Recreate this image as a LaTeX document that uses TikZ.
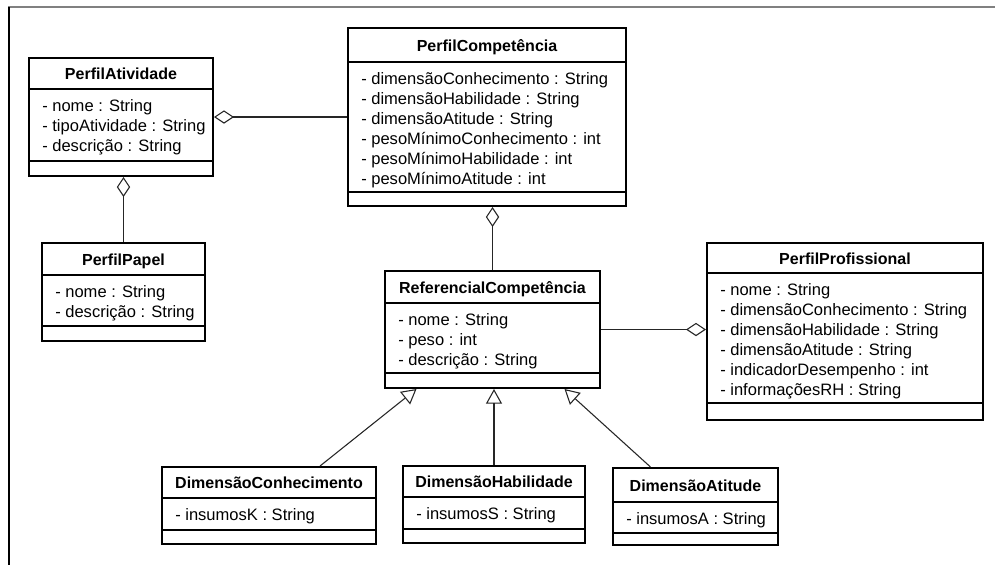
\documentclass[tikz,border=0pt]{standalone}
\usepackage{fontspec}
\setmainfont{Liberation Sans}
\usetikzlibrary{arrows.meta,fit,calc}

\tikzset{
  classbox/.style={draw=black, line width=1.5pt, inner sep=0pt},
  sepline/.style={draw=black, line width=0.8pt},
  classtitle/.style={font=\bfseries\fontsize{12}{14}\selectfont, inner sep=0pt, anchor=base},
  attr/.style={font=\fontsize{12.4}{14}\selectfont, inner sep=0pt, anchor=base west},
  link/.style={draw=black!85, line width=0.8pt},
  agg/.style={link, {Diamond[open, length=15pt, width=10pt, line width=0.8pt]}-},
  gen/.style={link, -{Triangle[open, length=11pt, width=12pt, line width=0.8pt]}},
}

% #1 name, #2-#5 box corners, #6 title rule, #7 attribute rule, #8 title, #9 attributes
\newcommand\umlclass[9]{%
  \node[classbox, fit={(#2,#3) (#4,#5)}] (#1) {};
  \draw[sepline] (#2,#6) -- (#4,#6);
  \draw[sepline] (#2,#7) -- (#4,#7);
  \node[classtitle] (#1-title) at ({(#2+#4)/2}, {(#3+#6)/2+6}) {#8};
  \foreach \a [count=\i] in {#9} {
    \node[attr] (#1-attr\i) at (#2+13, #6+22+20*\i-20) {\a};
  }%
}

\begin{document}
\begin{tikzpicture}[x=0.75pt, y=-0.75pt]
\useasboundingbox (0,0) rectangle (995,565);
\fill[white] (0,0) rectangle (995,565);

% frame
\draw[gray, line width=1.2pt] (8,7) -- (995,7);
\draw[black, line width=1.2pt] (9,7) -- (9,565);

\umlclass{pa}{29}{58}{213}{176}{89}{161}{PerfilAtividade}
  {- nome : String, - tipoAtividade : String, - descrição : String}
\umlclass{pp}{42}{243}{205}{341}{275}{326}{PerfilPapel}
  {- nome : String, - descrição : String}
\umlclass{pc}{348}{28}{626}{206}{62}{192}{PerfilCompetência}
  {- dimensãoConhecimento : String, - dimensãoHabilidade : String,
   - dimensãoAtitude : String, - pesoMínimoConhecimento : int,
   - pesoMínimoHabilidade : int, - pesoMínimoAtitude : int}
\umlclass{ref}{385}{271}{600}{388}{303}{373}{ReferencialCompetência}
  {- nome : String, - peso : int, - descrição : String}
\umlclass{prof}{707}{243}{983}{420}{273}{403}{PerfilProfissional}
  {- nome : String, - dimensãoConhecimento : String,
   - dimensãoHabilidade : String, - dimensãoAtitude : String,
   - indicadorDesempenho : int, - informaçõesRH : String}
\umlclass{dc}{162}{467}{376}{544}{498}{530}{DimensãoConhecimento}
  {- insumosK : String}
\umlclass{dh}{403}{466}{585}{543}{497}{529}{DimensãoHabilidade}
  {- insumosS : String}
\umlclass{da}{613}{468}{778}{545}{502}{533}{DimensãoAtitude}
  {- insumosA : String}

% aggregations
\draw[agg] (pa.east) -- (pc.west |- pa.east);
\draw[agg] (pa.south -| pp.north) -- (pp.north);
\draw[agg] (pc.south -| ref.north) -- (ref.north);
\draw[agg] (ref.east -| prof.west) -- (ref.east);

% generalizations
\draw[gen] ($(dc.north)+(51,0)$) -- ($(ref.south)+(-76,0)$);
\draw[gen] (dh.north) -- (dh.north |- ref.south);
\draw[gen] ($(da.north)+(-45,0)$) -- ($(ref.south)+(72,0)$);
\end{tikzpicture}
\end{document}
